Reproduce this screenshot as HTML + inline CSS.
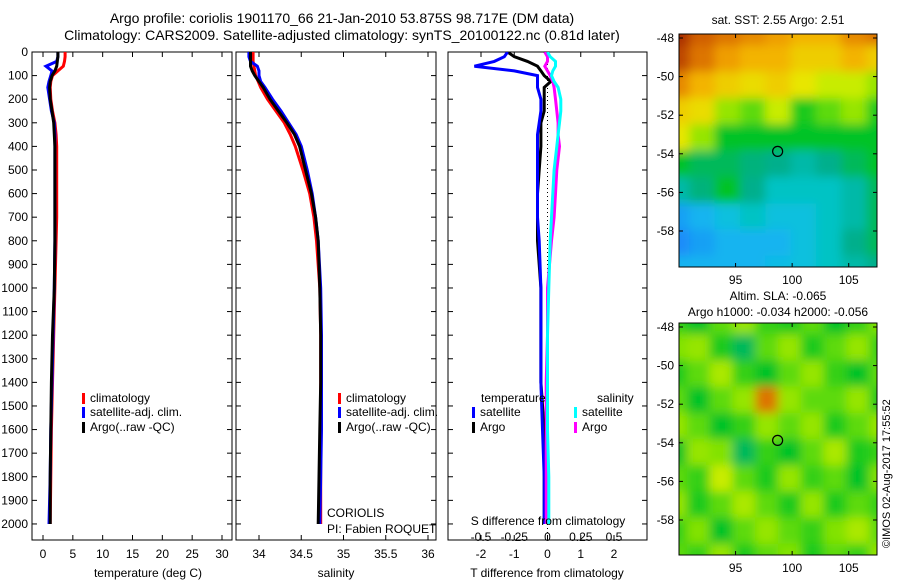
<!DOCTYPE html>
<html><head><meta charset="utf-8"><style>
body{margin:0;background:#fff;}
svg{display:block;font-family:"Liberation Sans",sans-serif;}
</style></head><body>
<svg id="fig" width="900" height="580" viewBox="0 0 900 580">
<defs>
<clipPath id="c1"><rect x="32" y="52" width="200" height="488"/></clipPath>
<clipPath id="c2"><rect x="236" y="52" width="200" height="488"/></clipPath>
<clipPath id="c3"><rect x="448" y="52" width="199" height="488"/></clipPath>
<clipPath id="cm1"><rect x="679" y="34" width="198" height="233"/></clipPath>
<clipPath id="cm2"><rect x="679" y="323" width="198" height="232"/></clipPath>
<filter id="bl" x="-5%" y="-5%" width="110%" height="110%"><feGaussianBlur stdDeviation="5"/></filter>
</defs>
<text x="342" y="23" font-size="14" text-anchor="middle">Argo profile: coriolis 1901170_66 21-Jan-2010 53.875S 98.717E (DM data)</text>
<text x="342" y="40" font-size="14" text-anchor="middle">Climatology: CARS2009. Satellite-adjusted climatology: synTS_20100122.nc (0.81d later)</text>
<g id="g1"></g>
<g id="g2"></g>
<g id="g3"></g>
<g id="m1"></g>
<g id="m2"></g>
<text x="778" y="24" font-size="12" text-anchor="middle">sat. SST: 2.55 Argo: 2.51</text>
<text x="778" y="300" font-size="12" text-anchor="middle">Altim. SLA: -0.065</text>
<text x="778" y="316" font-size="12" text-anchor="middle">Argo h1000: -0.034 h2000: -0.056</text>
<text transform="translate(890,548) rotate(-90)" font-size="11">©IMOS 02-Aug-2017 17:55:52</text>
<text x="327" y="517" font-size="12">CORIOLIS</text>
<text x="327" y="533" font-size="12">PI: Fabien ROQUET</text>
<text x="148" y="577" font-size="12" text-anchor="middle">temperature (deg C)</text>
<text x="336" y="577" font-size="12" text-anchor="middle">salinity</text>
<text x="547" y="577" font-size="12" text-anchor="middle">T difference from climatology</text>
<text x="548" y="525" font-size="12" text-anchor="middle">S difference from climatology</text>
</svg>
<script>
const depths=[0,20,40,60,80,100,125,150,200,250,300,350,400,500,600,700,800,1000,1200,1400,1600,1800,2000];
const tempClim=[3.7,3.7,3.6,3.4,2.5,1.6,1.3,1.2,1.3,1.6,2.0,2.2,2.3,2.3,2.3,2.3,2.2,2.0,1.8,1.6,1.4,1.3,1.2];
const tempSat=[2.5,2.5,2.3,0.5,1.5,1.3,1.0,0.8,1.1,1.4,1.9,2.0,2.0,2.0,2.0,2.0,2.0,1.9,1.7,1.5,1.3,1.2,1.0];
const tempArgo=[2.5,2.5,2.4,2.3,2.0,1.5,1.2,1.1,1.2,1.5,1.8,1.9,2.0,2.0,2.0,2.0,2.0,1.9,1.6,1.4,1.3,1.2,1.2];
const salClim=[33.93,33.93,33.93,33.94,33.95,33.96,33.99,34.02,34.1,34.2,34.3,34.37,34.43,34.52,34.6,34.65,34.68,34.72,34.73,34.73,34.73,34.73,34.73];
const salSat=[33.88,33.88,33.9,33.98,34.0,34.0,34.02,34.07,34.16,34.26,34.35,34.44,34.5,34.57,34.63,34.67,34.7,34.73,34.74,34.74,34.74,34.73,34.72];
const salArgo=[33.9,33.9,33.9,33.9,33.92,33.95,34.0,34.05,34.13,34.23,34.33,34.42,34.48,34.55,34.62,34.67,34.7,34.72,34.73,34.73,34.72,34.71,34.7];
const tdiffSat=[-1.2,-1.3,-1.6,-2.2,-1.0,-0.3,-0.3,-0.3,-0.2,-0.2,-0.25,-0.3,-0.3,-0.3,-0.3,-0.3,-0.25,-0.2,-0.2,-0.2,-0.15,-0.1,-0.1];
const tdiffArgo=[-1.2,-1.0,-0.6,-0.3,-0.2,-0.1,0.1,-0.1,-0.1,-0.1,-0.2,-0.2,-0.2,-0.25,-0.3,-0.3,-0.3,-0.2,-0.2,-0.2,-0.1,-0.1,-0.1];
const sdiffSat=[0.0,0.02,0.06,0.06,0.04,0.03,0.05,0.08,0.1,0.1,0.09,0.08,0.07,0.05,0.04,0.03,0.02,0.01,0.0,0.0,0.0,0.01,0.01];
const sdiffArgo=[-0.02,0.0,0.0,-0.02,0.0,0.02,0.04,0.05,0.06,0.07,0.08,0.08,0.09,0.07,0.06,0.05,0.03,0.0,0.0,-0.01,-0.01,-0.01,-0.01];
const depthTicks=[0,100,200,300,400,500,600,700,800,900,1000,1100,1200,1300,1400,1500,1600,1700,1800,1900,2000];
const tempTicks=[0,5,10,15,20,25,30];
const salTicks=[34,34.5,35,35.5,36];
const tdTicks=[-2,-1,0,1,2];
const sdTicks=[-0.5,-0.25,0,0.25,0.5];
const sstGrid=[
[1.0,0.9,0.85,0.8,0.75,0.7,0.7,0.8,0.85],
[0.95,0.85,0.75,0.7,0.7,0.65,0.65,0.7,0.65],
[0.8,0.7,0.65,0.62,0.65,0.6,0.55,0.55,0.5],
[0.65,0.62,0.5,0.45,0.55,0.4,0.45,0.5,0.4],
[0.6,0.5,0.38,0.38,0.38,0.38,0.38,0.38,0.38],
[0.38,0.35,0.35,0.33,0.32,0.3,0.32,0.35,0.38],
[0.3,0.33,0.38,0.32,0.28,0.28,0.28,0.3,0.35],
[0.2,0.22,0.25,0.28,0.25,0.25,0.28,0.3,0.35],
[0.18,0.2,0.22,0.22,0.22,0.25,0.28,0.32,0.35],
[0.22,0.22,0.22,0.22,0.24,0.25,0.28,0.3,0.32]];
const slaGrid=[
[0.42,0.38,0.45,0.5,0.42,0.4,0.45,0.38,0.42,0.48],
[0.48,0.5,0.4,0.35,0.45,0.5,0.4,0.45,0.5,0.42],
[0.4,0.45,0.52,0.42,0.38,0.45,0.5,0.42,0.38,0.45],
[0.45,0.38,0.45,0.5,0.85,0.5,0.45,0.45,0.5,0.4],
[0.5,0.45,0.38,0.42,0.5,0.45,0.5,0.4,0.45,0.5],
[0.38,0.5,0.48,0.35,0.42,0.38,0.45,0.52,0.4,0.42],
[0.45,0.42,0.55,0.45,0.4,0.5,0.42,0.45,0.38,0.48],
[0.5,0.4,0.45,0.52,0.45,0.4,0.5,0.4,0.45,0.42],
[0.42,0.48,0.38,0.45,0.5,0.45,0.42,0.48,0.52,0.45],
[0.45,0.42,0.5,0.4,0.45,0.48,0.4,0.45,0.42,0.5]];
const mapLonTicks=[95,100,105];
const mapLatTicks=[-48,-50,-52,-54,-56,-58];
const argoLon=98.717, argoLat=-53.875;

const NS='http://www.w3.org/2000/svg';
function el(tag,attrs,parent,txt){const e=document.createElementNS(NS,tag);for(const k in attrs)e.setAttribute(k,attrs[k]);if(txt!==undefined)e.textContent=txt;parent.appendChild(e);return e;}
const Y0=52,Y1=540,DMAX=2068;
const yD=d=>Y0+d/DMAX*(Y1-Y0);
function lin(d0,d1,r0,r1){return v=>r0+(v-d0)/(d1-d0)*(r1-r0);}

function panel(g,x0,x1,xs,ticks,labelAxis,clip){
  const fr=el('rect',{x:x0,y:Y0,width:x1-x0,height:Y1-Y0,fill:'none',stroke:'#000','stroke-width':1},g);
  
  depthTicks.forEach(d=>{const y=yD(d);
    el('line',{x1:x0,x2:x0+5,y1:y,y2:y,stroke:'#000'},g);
    el('line',{x1:x1-5,x2:x1,y1:y,y2:y,stroke:'#000'},g);
    if(labelAxis){const t=el('text',{x:x0-4,y:y+4,'font-size':12,'text-anchor':'end'},g,String(d));
      }
  });
  ticks.forEach(v=>{const x=xs(v);
    el('line',{x1:x,x2:x,y1:Y1,y2:Y1-5,stroke:'#000'},g);
    el('line',{x1:x,x2:x,y1:Y0,y2:Y0+5,stroke:'#000'},g);
    const t=el('text',{x:x,y:Y1+18,'font-size':12,'text-anchor':'middle'},g,String(v));
    
  });
}
function line(g,vals,xs,color,clip,name){
  const pts=vals.map((v,i)=>xs(v).toFixed(1)+','+yD(depths[i]).toFixed(1)).join(' ');
  const p=el('polyline',{points:pts,fill:'none',stroke:color,'stroke-width':3,'clip-path':'url(#'+clip+')','stroke-linejoin':'miter'},g);
  
}
function legend(g,x,y,color,label){
  el('rect',{x:x,y:y-9,width:3,height:11,fill:color},g);
  const t=el('text',{x:x+8,y:y,'font-size':12},g,label);
  
}
const g1=document.getElementById('g1');
const xT=lin(0,30,43,222);
panel(g1,32,232,xT,tempTicks,true);
line(g1,tempClim,xT,'#f00','c1','temp-climatology-line');
line(g1,tempSat,xT,'#00f','c1','temp-satellite-line');
line(g1,tempArgo,xT,'#000','c1','temp-argo-line');
legend(g1,82,402,'#f00','climatology');legend(g1,82,416,'#00f','satellite-adj. clim.');legend(g1,82,431,'#000','Argo(..raw -QC)');
const g2=document.getElementById('g2');
const xS=lin(34,36,259,428);
panel(g2,236,436,xS,salTicks,false);
line(g2,salClim,xS,'#f00','c2','sal-climatology-line');
line(g2,salSat,xS,'#00f','c2','sal-satellite-line');
line(g2,salArgo,xS,'#000','c2','sal-argo-line');
legend(g2,338,402,'#f00','climatology');legend(g2,338,416,'#00f','satellite-adj. clim.');legend(g2,338,431,'#000','Argo(..raw -QC)');
const g3=document.getElementById('g3');
const xTD=lin(-2,2,481,614), xSD=lin(-0.5,0.5,481,614);
panel(g3,448,647,xTD,tdTicks,false);
sdTicks.forEach(v=>{const t=el('text',{x:xSD(v),y:541,'font-size':12,'text-anchor':'middle'},g3,String(v));
  });
el('line',{x1:xTD(0),x2:xTD(0),y1:Y0,y2:Y1,stroke:'#000','stroke-dasharray':'1,3'},g3);
line(g3,tdiffArgo,xTD,'#000','c3','tdiff-argo-line');
line(g3,tdiffSat,xTD,'#00f','c3','tdiff-satellite-line');
line(g3,sdiffArgo,xSD,'#f0f','c3','sdiff-argo-line');
line(g3,sdiffSat,xSD,'#0ff','c3','sdiff-satellite-line');
let t=el('text',{x:481,y:402,'font-size':12},g3,'temperature');
t=el('text',{x:597,y:402,'font-size':12},g3,'salinity');
legend(g3,472,416,'#00f','satellite');legend(g3,472,431,'#000','Argo');
legend(g3,574,416,'#0ff','satellite');legend(g3,574,431,'#f0f','Argo');
const stops=[[0.15,[30,110,255]],[0.22,[20,180,240]],[0.27,[0,200,210]],[0.32,[0,175,140]],[0.38,[0,195,40]],[0.47,[120,225,0]],[0.58,[230,240,0]],[0.72,[245,170,0]],[0.88,[215,105,0]],[1.0,[170,45,0]]];
function cmap(v){if(v<=stops[0][0])return 'rgb('+stops[0][1]+')';
  for(let i=1;i<stops.length;i++){if(v<=stops[i][0]){const a=stops[i-1],b=stops[i],f=(v-a[0])/(b[0]-a[0]);
    return 'rgb('+a[1].map((c,k)=>Math.round(c+(b[1][k]-c)*f)).join(',')+')';}}
  return 'rgb('+stops[stops.length-1][1]+')';}
function map(id,grid,x0,y0,w,h,clip,latTop){
  const g=document.getElementById(id);
  const lonS=lin(90,107.5,x0,x0+w), latS=lin(-48,-58,latTop,latTop+193);
  const gg=el('g',{'clip-path':'url(#'+clip+')'},g);
  const inner=el('g',{filter:'url(#bl)'},gg);
  const R=grid.length,C=grid[0].length,cw=(w+30)/C,ch=(h+30)/R;
  grid.forEach((row,r)=>row.forEach((v,c)=>{
    const cell=el('rect',{x:x0-15+c*cw,y:y0-15+r*ch,width:cw+1,height:ch+1,fill:cmap(v)},inner);
    
  }));
  el('rect',{x:x0,y:y0,width:w,height:h,fill:'none',stroke:'#000'},g);
  mapLonTicks.forEach(v=>{const x=lonS(v);el('line',{x1:x,x2:x,y1:y0,y2:y0+4,stroke:'#000'},g);el('line',{x1:x,x2:x,y1:y0+h,y2:y0+h-4,stroke:'#000'},g);
    const t=el('text',{x:x,y:y0+h+17,'font-size':12,'text-anchor':'middle'},g,String(v));});
  mapLatTicks.forEach(v=>{const y=latS(v);el('line',{x1:x0,x2:x0+4,y1:y,y2:y,stroke:'#000'},g);el('line',{x1:x0+w,x2:x0+w-4,y1:y,y2:y,stroke:'#000'},g);
    const t=el('text',{x:x0-5,y:y+4,'font-size':12,'text-anchor':'end'},g,String(v));});
  const c=el('circle',{cx:lonS(argoLon),cy:latS(argoLat),r:5,fill:'none',stroke:'#000','stroke-width':1.2},g);
  
}
map('m1',sstGrid,679,34,198,233,'cm1',38);
map('m2',slaGrid,679,323,198,232,'cm2',327);
</script>
</body></html>
